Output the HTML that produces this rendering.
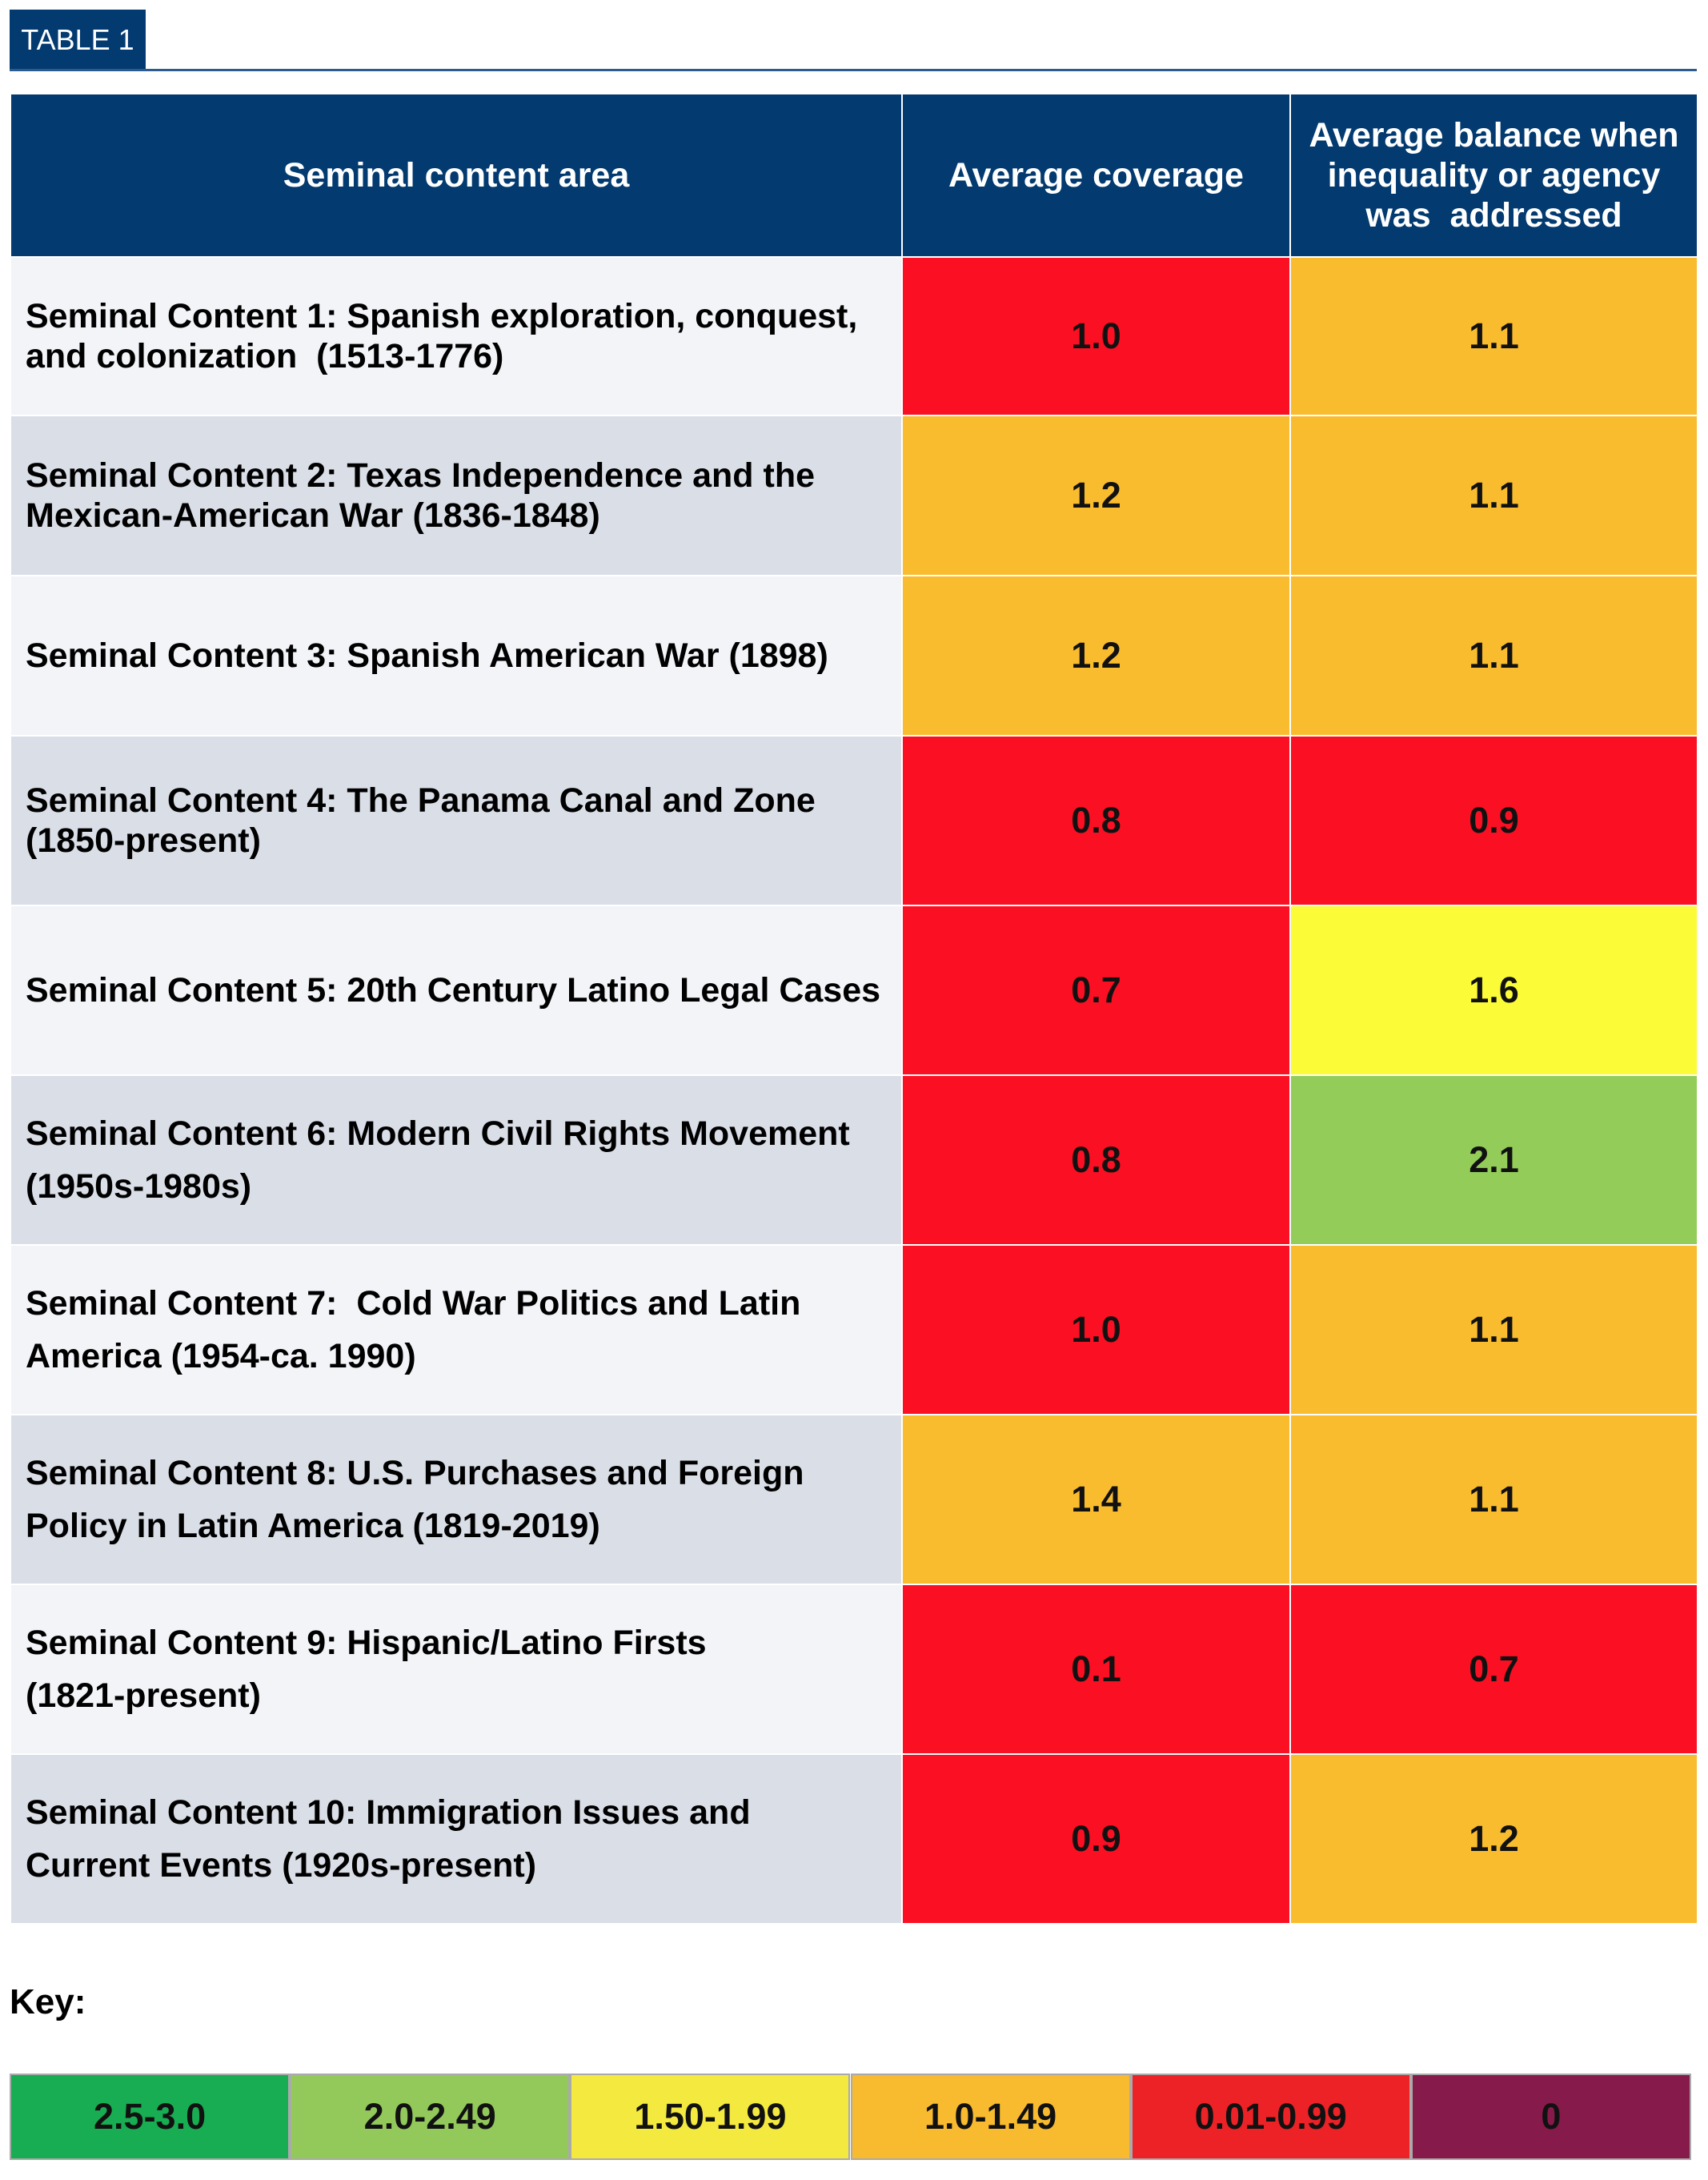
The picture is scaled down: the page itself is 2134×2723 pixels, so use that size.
<!DOCTYPE html>
<html><head><meta charset="utf-8">
<style>
body{margin:0;background:#fff;width:2134px;height:2723px;position:relative;overflow:hidden;font-family:"Liberation Sans",Arial,sans-serif;}
.a{position:absolute;box-sizing:border-box;}
.cell{display:flex;align-items:center;}
.c{justify-content:center;text-align:center;}
</style></head><body>
<div class="a" style="left:12px;top:12px;width:170px;height:76px;background:#033a70;color:#fff;font-size:36px;display:flex;align-items:center;justify-content:center;">TABLE 1</div>
<div class="a" style="left:12px;top:86px;width:2108px;height:3px;background:#2d5b8e;"></div>
<div id="tbl"></div>
<div class="a" style="left:12px;top:2476px;font-size:44px;font-weight:bold;">Key:</div>
<div id="key"></div>
<script>
const labels=[
"Seminal Content 1: Spanish exploration, conquest,<br>and colonization&nbsp; (1513-1776)",
"Seminal Content 2: Texas Independence and the<br>Mexican-American War (1836-1848)",
"Seminal Content 3: Spanish American War (1898)",
"Seminal Content 4: The Panama Canal and Zone<br>(1850-present)",
"Seminal Content 5: 20th Century Latino Legal Cases",
"Seminal Content 6: Modern Civil Rights Movement<br>(1950s-1980s)",
"Seminal Content 7:&nbsp; Cold War Politics and Latin<br>America (1954-ca. 1990)",
"Seminal Content 8: U.S. Purchases and Foreign<br>Policy in Latin America (1819-2019)",
"Seminal Content 9: Hispanic/Latino Firsts<br>(1821-present)",
"Seminal Content 10: Immigration Issues and<br>Current Events (1920s-present)"];
const coverage=[1.0,1.2,1.2,0.8,0.7,0.8,1.0,1.4,0.1,0.9];
const balance=[1.1,1.1,1.1,0.9,1.6,2.1,1.1,1.1,0.7,1.2];
// colour band index per cell (0=2.5-3.0 ... 4=0.01-0.99, 5=0), as shown in the source
const coverageBand=[4,3,3,4,4,4,4,3,4,4];
const balanceBand=[3,3,3,4,2,1,3,3,4,3];
const keyLabels=["2.5-3.0","2.0-2.49","1.50-1.99","1.0-1.49","0.01-0.99","0"];
const keyColors=["#18ad52","#93c95b","#f4e93e","#f8ba2e","#ec2227","#861a4a"];
const cellColors=["#18ad52","#93cc59","#fbfb37","#f9bc2e","#fb0f23","#861a4a"];
const rowTops=[320,518,718,918,1130,1342,1554,1766,1978,2190,2402];
const X=[14,1126,1611,2120];
const t=document.getElementById('tbl');
function mk(x,y,w,h,bg,html,cls,fs,name,extra){const d=document.createElement('div');d.className='a cell '+cls;
d.style.cssText=`left:${x}px;top:${y}px;width:${w}px;height:${h}px;background:${bg};font-size:${fs}px;font-weight:bold;${extra||''}`;
d.innerHTML=html;


t.appendChild(d);return d;}
const heads=["Seminal content area","Average coverage","Average balance when<br>inequality or agency<br>was&nbsp; addressed"];
const hn=["header-content-area","header-coverage","header-balance"];
for(let i=0;i<3;i++)mk(X[i]+(i?2:0),118,X[i+1]-X[i]-(i?2:0),202,"#033a70",heads[i],'c',43,hn[i],'color:#fff;line-height:50px;');
for(let r=0;r<labels.length;r++){
 const y=rowTops[r]+2,h=rowTops[r+1]-rowTops[r]-2;
 const lh=r>=5?66:50;
 mk(X[0],y,X[1]-X[0],h,r%2?"#dadee7":"#f2f4f8",labels[r],'',43,'row-label-'+(r+1),`padding-left:18px;line-height:${lh}px;color:#000;`);
 mk(X[1]+2,y,X[2]-X[1]-2,h,cellColors[coverageBand[r]],coverage[r].toFixed(1),'c',45,'coverage-cell-'+(r+1),'color:#111;');
 mk(X[2]+2,y,X[3]-X[2]-2,h,cellColors[balanceBand[r]],balance[r].toFixed(1),'c',45,'balance-cell-'+(r+1),'color:#111;');
}
const k=document.getElementById('key');
const kw=(2113-12)/6;
for(let i=0;i<keyLabels.length;i++){const d=document.createElement('div');d.className='a cell c';
d.style.cssText=`left:${12+i*kw}px;top:2590px;width:${kw}px;height:108px;background:${keyColors[i]};border:2px solid #aaa;font-size:45px;font-weight:bold;color:#111;`;
d.textContent=keyLabels[i];


k.appendChild(d);}
</script>
</body></html>
